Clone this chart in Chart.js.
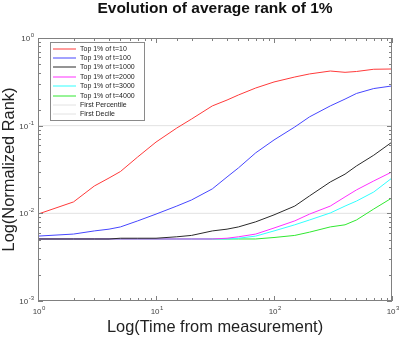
<!DOCTYPE html>
<html>
<head>
<meta charset="utf-8">
<script src="https://cdn.jsdelivr.net/npm/chart.js@4.4.1/dist/chart.umd.min.js"></script>
<style>
  html, body { margin: 0; padding: 0; background: #fff; }
  #wrap { width: 399px; height: 337px; }
</style>
</head>
<body>
<div id="wrap"><canvas id="rankChart" width="399" height="337"></canvas></div>
<script>
// time from measurement (x values shared by all series)
const times = [1, 2, 3, 4, 5, 7, 10, 15, 20, 30, 40, 50, 70, 100, 150, 200, 300, 400, 500, 700, 1000];

// normalized rank
const top10   = [0.0098, 0.0135, 0.0205, 0.0253, 0.030, 0.044, 0.065, 0.094, 0.119, 0.168, 0.196, 0.224, 0.269, 0.315, 0.359, 0.389, 0.42, 0.406, 0.415, 0.44, 0.443];
const top100  = [0.0055, 0.0058, 0.0063, 0.0066, 0.0070, 0.0082, 0.0098, 0.0121, 0.0142, 0.019, 0.026, 0.033, 0.049, 0.0687, 0.0966, 0.126, 0.168, 0.201, 0.233, 0.265, 0.284];
const top1000 = [0.0051, 0.0051, 0.0051, 0.0051, 0.0052, 0.0052, 0.0052, 0.0054, 0.0056, 0.0063, 0.0066, 0.0070, 0.008, 0.0096, 0.0121, 0.0158, 0.0228, 0.028, 0.0347, 0.046, 0.065];
const top2000 = [0.0051, 0.0051, 0.0051, 0.0051, 0.0051, 0.0051, 0.0051, 0.0051, 0.0051, 0.0051, 0.0052, 0.0054, 0.0058, 0.0068, 0.0082, 0.0098, 0.0121, 0.0154, 0.0185, 0.0234, 0.0297];
const top3000 = [0.0051, 0.0051, 0.0051, 0.0051, 0.0051, 0.0051, 0.0051, 0.0051, 0.0051, 0.0051, 0.0051, 0.0052, 0.0055, 0.0063, 0.0074, 0.0084, 0.0101, 0.0121, 0.0138, 0.0175, 0.0253];
const top4000 = [0.0051, 0.0051, 0.0051, 0.0051, 0.0051, 0.0051, 0.0051, 0.0051, 0.0051, 0.0051, 0.0051, 0.0051, 0.0051, 0.0053, 0.0056, 0.0061, 0.0070, 0.0074, 0.0084, 0.0112, 0.015];

// reference levels
const firstPercentile = 0.01;
const firstDecile = 0.1;

const seriesNames = ['Top 1% of t=10', 'Top 1% of t=100', 'Top 1% of t=1000', 'Top 1% of t=2000', 'Top 1% of t=3000', 'Top 1% of t=4000'];
const seriesColors = ['#ff3a3a', '#4646ff', '#2a2a2a', '#ff30ff', '#30ffff', '#30e830'];
const seriesValues = [top10, top100, top1000, top2000, top3000, top4000];

const FONT = '"Liberation Sans", Arial, Helvetica, sans-serif';

function pts(vals) {
  return times.map((t, i) => ({ x: t, y: vals[i] }));
}

const datasets = seriesValues.map((vals, i) => ({
  label: seriesNames[i],
  data: pts(vals),
  borderColor: seriesColors[i],
  borderWidth: 1,
  pointRadius: 0,
  tension: 0,
  fill: false
}));

datasets.push({
  label: 'First Percentile',
  data: [{ x: times[0], y: firstPercentile }, { x: times[times.length - 1], y: firstPercentile }],
  borderColor: '#e2e2e2', borderWidth: 1, pointRadius: 0, fill: false
});
datasets.push({
  label: 'First Decile',
  data: [{ x: times[0], y: firstDecile }, { x: times[times.length - 1], y: firstDecile }],
  borderColor: '#e2e2e2', borderWidth: 1, pointRadius: 0, fill: false
});

function isPow10(v) {
  const l = Math.log10(v);
  return Math.abs(l - Math.round(l)) < 1e-9;
}

// "10" with a raised exponent, like the original tick labels
function drawPow(ctx, v, x, y, align) {
  const e = String(Math.round(Math.log10(v)));
  ctx.font = '8px ' + FONT;
  const wBase = ctx.measureText('10').width;
  ctx.font = '6px ' + FONT;
  const wExp = ctx.measureText(e).width;
  const total = wBase + wExp + 0.5;
  let x0 = align === 'right' ? x - total : x - total / 2;
  ctx.font = '8px ' + FONT;
  ctx.fillText('10', x0, y);
  ctx.font = '6px ' + FONT;
  ctx.fillText(e, x0 + wBase + 0.5, y - 4);
}

// box around the plot with inward ticks on all four sides, plus tick labels
const frameTicks = {
  id: 'frameTicks',
  afterDatasetsDraw(chart) {
    const { ctx, chartArea: a, scales } = chart;
    ctx.save();
    ctx.strokeStyle = '#808080';
    ctx.lineWidth = 1;
    ctx.strokeRect(a.left + 0.5, a.top + 0.5, a.right - a.left - 1, a.bottom - a.top - 1);
    ctx.beginPath();
    scales.x.ticks.forEach(t => {
      const px = Math.round(scales.x.getPixelForValue(t.value)) + 0.5;
      const len = isPow10(t.value) ? 5 : 3;
      ctx.moveTo(px, a.bottom); ctx.lineTo(px, a.bottom - len);
      ctx.moveTo(px, a.top); ctx.lineTo(px, a.top + len);
    });
    scales.y.ticks.forEach(t => {
      const py = Math.round(scales.y.getPixelForValue(t.value)) + 0.5;
      const len = isPow10(t.value) ? 5 : 3;
      ctx.moveTo(a.left, py); ctx.lineTo(a.left + len, py);
      ctx.moveTo(a.right, py); ctx.lineTo(a.right - len, py);
    });
    ctx.stroke();

    ctx.fillStyle = '#444';
    ctx.textAlign = 'left';
    ctx.textBaseline = 'alphabetic';
    scales.x.ticks.filter(t => isPow10(t.value)).forEach(t => {
      drawPow(ctx, t.value, scales.x.getPixelForValue(t.value) + 1, a.bottom + 13, 'center');
    });
    scales.y.ticks.filter(t => isPow10(t.value)).forEach(t => {
      drawPow(ctx, t.value, a.left - 4, scales.y.getPixelForValue(t.value) + 3, 'right');
    });
    ctx.restore();
  }
};

// legend drawn inside the plot, top-left
const boxLegend = {
  id: 'boxLegend',
  afterDraw(chart) {
    const { ctx, chartArea: a } = chart;
    const x0 = a.left + 12, y0 = a.top + 4;
    const w = 94, rowH = 9.4, h = 78;
    ctx.save();
    ctx.fillStyle = '#fff';
    ctx.fillRect(x0, y0, w, h);
    ctx.strokeStyle = '#8a8a8a';
    ctx.lineWidth = 1;
    ctx.strokeRect(x0 + 0.5, y0 + 0.5, w, h);
    ctx.font = '7px ' + FONT;
    ctx.textBaseline = 'middle';
    chart.data.datasets.forEach((ds, i) => {
      const y = Math.round(y0 + 6.5 + i * rowH);
      ctx.strokeStyle = ds.borderColor;
      ctx.beginPath();
      ctx.moveTo(x0 + 3, y); ctx.lineTo(x0 + 26, y);
      ctx.stroke();
      ctx.fillStyle = '#222';
      ctx.fillText(ds.label, x0 + 30, y + 0.5);
    });
    ctx.restore();
  }
};

new Chart(document.getElementById('rankChart'), {
  type: 'line',
  data: { datasets: datasets },
  options: {
    responsive: false,
    animation: false,
    layout: { padding: { left: 0, right: 7, top: 0, bottom: 0 } },
    scales: {
      x: {
        type: 'logarithmic',
        min: 1, max: 1000,
        grid: { display: false },
        border: { display: false },
        ticks: { display: false, autoSkip: false },
        title: { display: true, text: 'Log(Time from measurement)', color: '#222', font: { family: FONT, size: 16.4 }, padding: { top: 0, bottom: 0 } },
        afterFit(scale) { scale.height = 36; }
      },
      y: {
        type: 'logarithmic',
        min: 0.001, max: 1,
        grid: { display: false },
        border: { display: false },
        ticks: { display: false, autoSkip: false },
        title: { display: true, text: 'Log(Normalized Rank)', color: '#222', font: { family: FONT, size: 16.4 }, padding: { top: 0, bottom: 0 } },
        afterFit(scale) { scale.width = 38; }
      }
    },
    plugins: {
      legend: { display: false },
      tooltip: { enabled: false },
      title: {
        display: true,
        fullSize: false,
        text: 'Evolution of average rank of 1%',
        color: '#111',
        font: { family: FONT, size: 15.5, weight: 'bold', lineHeight: 1 },
        padding: { top: 1, bottom: 21.5 }
      }
    }
  },
  plugins: [frameTicks, boxLegend]
});
</script>
</body>
</html>
